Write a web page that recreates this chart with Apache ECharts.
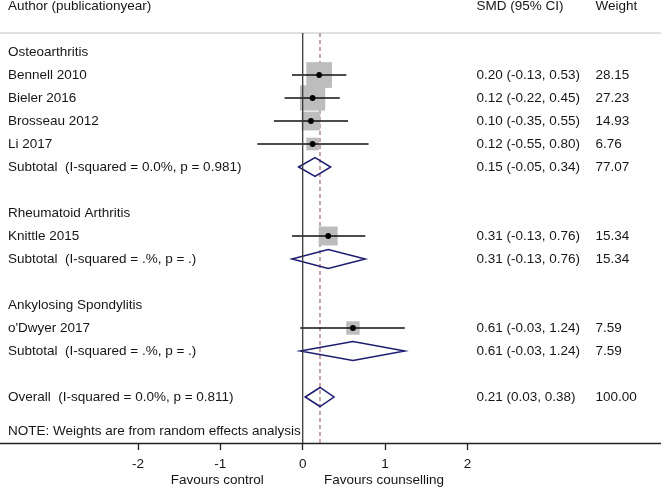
<!DOCTYPE html>
<html><head><meta charset="utf-8">
<script src="https://cdn.jsdelivr.net/npm/echarts@6/dist/echarts.min.js"></script>
<style>html,body{margin:0;padding:0;background:#fff}#c{width:661px;height:487px}</style>
</head><body><div id="c"></div>
<script>
const rowLabels = ['Osteoarthritis','Bennell 2010','Bieler 2016','Brosseau 2012','Li 2017','Subtotal  (I-squared = 0.0%, p = 0.981)','Rheumatoid Arthritis','Knittle 2015','Subtotal  (I-squared = .%, p = .)','Ankylosing Spondylitis',"o'Dwyer 2017",'Subtotal  (I-squared = .%, p = .)','Overall  (I-squared = 0.0%, p = 0.811)','NOTE: Weights are from random effects analysis'];
const rowKinds = ['group','study','study','study','study','sub','group','study','sub','group','study','sub','overall','note'];
const rowIndex = [0,1,2,3,4,5,7,8,9,11,12,13,15,16.5];
const smd = [null,0.20,0.12,0.10,0.12,0.15,null,0.31,0.31,null,0.61,0.61,0.21,null];
const ciLow = [null,-0.13,-0.22,-0.35,-0.55,-0.05,null,-0.13,-0.13,null,-0.03,-0.03,0.03,null];
const ciHigh = [null,0.53,0.45,0.55,0.80,0.34,null,0.76,0.76,null,1.24,1.24,0.38,null];
const weights = [null,'28.15','27.23','14.93','6.76','77.07',null,'15.34','15.34',null,'7.59','7.59','100.00',null];
const xTicks = [-2,-1,0,1,2];
const headers = ['Author (publicationyear)','SMD (95% CI)','Weight'];
const sideLabels = ['Favours control','Favours counselling'];
const sidePos = [-1, 1];
const overallIdx = 12;

const FONT = '13.5px "Liberation Sans", Arial, sans-serif';
const TXT = '#161616';
const HEADER_ROW = -2, RULE_ROW = -0.826, AXIS_ROW = 17;

function txt(x, y, s, align) {
  return {type:'text', x:x, y:y, style:{text:s, fill:TXT, font:FONT, textAlign:align||'left', textVerticalAlign:'middle', align:align||'left', verticalAlign:'middle'}};
}

const chart = echarts.init(document.getElementById('c'), null, {renderer:'canvas'});
chart.setOption({
  animation:false,
  backgroundColor:'#fff',
  grid:{left:0,right:0,top:0,bottom:44,containLabel:false,outerBoundsMode:'none'},
  xAxis:{type:'value',min:-3.6758,max:4.351,
    axisLine:{show:true,onZero:false,lineStyle:{color:'#222',width:1.3}},
    axisTick:{show:true,customValues:xTicks,length:7,lineStyle:{color:'#222',width:1.3}},
    axisLabel:{show:true,customValues:xTicks,margin:14,color:TXT,fontSize:13.5,fontFamily:'"Liberation Sans", Arial, sans-serif'},
    splitLine:{show:false}},
  yAxis:{type:'value',inverse:true,min:-2.26087,max:17,show:false},
  series:[
    {type:'custom', z:1, data:[[0,0]], renderItem:function(params, api){
      const cs = params.coordSys;
      const yRule = api.coord([0, RULE_ROW])[1];
      const yAxis = api.coord([0, AXIS_ROW])[1];
      const yHead = api.coord([0, HEADER_ROW])[1];
      const xo = api.coord([smd[overallIdx], 0])[0];
      const els = [
        {type:'line', shape:{x1:cs.x, y1:yRule, x2:cs.x+cs.width, y2:yRule}, style:{stroke:'#c4c4c4', lineWidth:1.2}},
        {type:'line', shape:{x1:xo, y1:yRule, x2:xo, y2:yAxis}, style:{stroke:'#a06a6a', lineWidth:1.2, lineDash:[4,3]}},
        txt(cs.x+8, yHead, headers[0]),
        txt(cs.x+476.5, yHead, headers[1]),
        txt(cs.x+595.5, yHead, headers[2])
      ];
      const offs = [-3, -1];
      for (let k=0;k<sideLabels.length;k++){
        els.push(txt(api.coord([sidePos[k],0])[0] + offs[k], yAxis+37, sideLabels[k], 'center'));
      }
      return {type:'group', children:els};
    }},
    {type:'custom', z:2, data:rowIndex.map((r,i)=>[smd[i]==null?0:smd[i], r, i]), renderItem:function(params, api){
      const cs = params.coordSys;
      const i = api.value(2);
      const y = api.coord([0, rowIndex[i]])[1];
      const kind = rowKinds[i];
      const els = [txt(cs.x+8, y, rowLabels[i])];
      if (smd[i] != null) {
        const xe = api.coord([smd[i],0])[0], xl = api.coord([ciLow[i],0])[0], xh = api.coord([ciHigh[i],0])[0];
        if (kind === 'study') {
          const s = 4.85*Math.sqrt(parseFloat(weights[i]));
          els.push({type:'rect', shape:{x:xe-s/2, y:y-s/2, width:s, height:s}, style:{fill:'#bdbdbd'}});
          els.push({type:'line', shape:{x1:xl,y1:y,x2:xh,y2:y}, style:{stroke:'#111', lineWidth:1.3}});
          els.push({type:'circle', shape:{cx:xe, cy:y, r:2.9}, style:{fill:'#000'}});
        } else {
          const h = 9.5;
          els.push({type:'polygon', shape:{points:[[xl,y],[xe,y-h],[xh,y],[xe,y+h]]}, style:{fill:'none', stroke:'#1c1c70', lineWidth:1.5}});
        }
        els.push(txt(cs.x+476.5, y, smd[i].toFixed(2)+' ('+ciLow[i].toFixed(2)+', '+ciHigh[i].toFixed(2)+')'));
        els.push(txt(cs.x+595.5, y, weights[i]));
      }
      return {type:'group', children:els};
    }},
    {type:'custom', z:3, data:[[0,0]], renderItem:function(params, api){
      const yRule = api.coord([0, RULE_ROW])[1];
      const yAxis = api.coord([0, AXIS_ROW])[1];
      const x0 = api.coord([0, 0])[0];
      return {type:'line', shape:{x1:x0, y1:yRule, x2:x0, y2:yAxis}, style:{stroke:'#3a3a3a', lineWidth:1.3}};
    }}
  ]
});
</script></body></html>
